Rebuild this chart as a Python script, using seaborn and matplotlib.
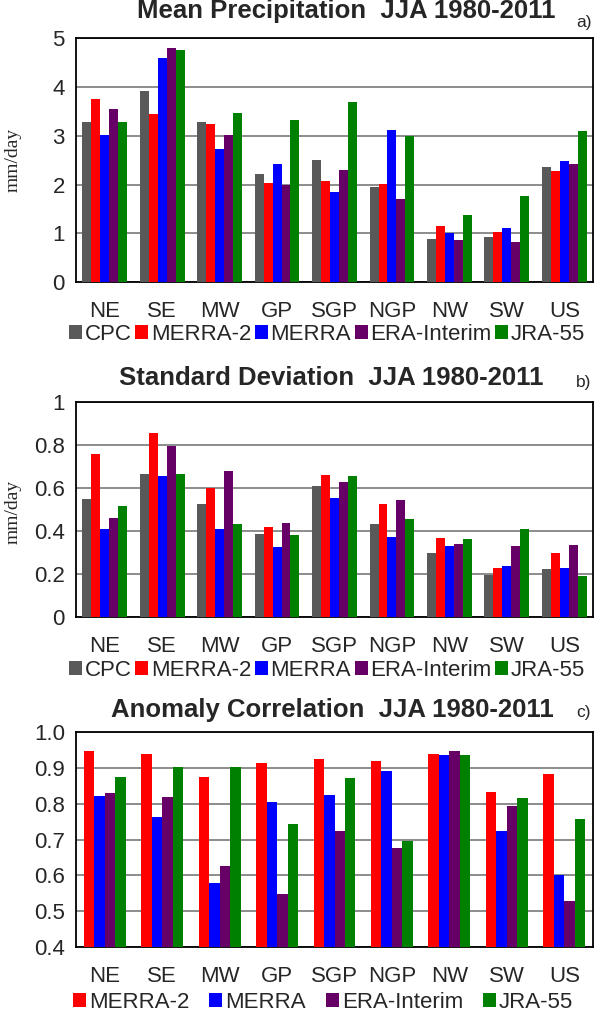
import numpy as np
import pandas as pd
import matplotlib
matplotlib.use("Agg")
import matplotlib.pyplot as plt
import seaborn as sns
from matplotlib.ticker import FormatStrFormatter

regions = ["NE", "SE", "MW", "GP", "SGP", "NGP", "NW", "SW", "US"]

# panel a: mean precipitation (mm/day)
mean_cpc   = [3.29, 3.91, 3.29, 2.22, 2.50, 1.94, 0.89, 0.93, 2.36]
mean_m2    = [3.76, 3.44, 3.25, 2.04, 2.07, 2.01, 1.15, 1.03, 2.28]
mean_merra = [3.02, 4.60, 2.72, 2.43, 1.84, 3.12, 1.00, 1.11, 2.48]
mean_era   = [3.55, 4.80, 3.02, 1.99, 2.29, 1.71, 0.86, 0.83, 2.43]
mean_jra   = [3.29, 4.77, 3.47, 3.32, 3.69, 2.99, 1.37, 1.77, 3.09]

# panel b: standard deviation (mm/day)
sd_cpc   = [0.546, 0.666, 0.524, 0.384, 0.610, 0.431, 0.294, 0.193, 0.222]
sd_m2    = [0.756, 0.855, 0.600, 0.417, 0.659, 0.524, 0.367, 0.227, 0.294]
sd_merra = [0.406, 0.655, 0.406, 0.322, 0.554, 0.369, 0.328, 0.238, 0.227]
sd_era   = [0.457, 0.795, 0.677, 0.435, 0.627, 0.541, 0.339, 0.328, 0.334]
sd_jra   = [0.515, 0.666, 0.429, 0.379, 0.655, 0.453, 0.361, 0.406, 0.188]

# panel c: anomaly correlation
ac_m2    = [0.947, 0.940, 0.875, 0.913, 0.924, 0.920, 0.940, 0.832, 0.882]
ac_merra = [0.822, 0.762, 0.580, 0.804, 0.825, 0.893, 0.937, 0.723, 0.602]
ac_era   = [0.829, 0.818, 0.626, 0.549, 0.723, 0.676, 0.947, 0.795, 0.529]
ac_jra   = [0.875, 0.902, 0.902, 0.744, 0.873, 0.697, 0.937, 0.815, 0.758]

colors = {"CPC": "#595959", "MERRA-2": "#ff0000", "MERRA": "#0000ff",
          "ERA-Interim": "#660066", "JRA-55": "#008000"}


def longframe(series):
    rows = []
    for name, vals in series:
        for r, v in zip(regions, vals):
            rows.append({"region": r, "dataset": name, "value": v})
    return pd.DataFrame(rows)


sns.set_style("white")
plt.rcParams['font.family'] = ['Liberation Sans', 'DejaVu Sans']

fig = plt.figure(figsize=(6, 10.14), dpi=100)

L, W = 76 / 600, 517 / 600
H = 1014.0


def panel(rect, series, width, ylim, yticks, fmt, title, tx, tag, ty, tgy,
          leg_x, leg_y, colsp):
    ax = fig.add_axes(rect)
    df = longframe(series)
    pal = [colors[n] for n, _ in series]
    sns.barplot(data=df, x="region", y="value", hue="dataset", palette=pal,
                width=width, gap=0, saturation=1, linewidth=0, ax=ax, zorder=3)
    ax.set_xlim(-0.5, 8.5)
    ax.set_ylim(*ylim)
    ax.set_yticks(yticks)
    if fmt:
        ax.yaxis.set_major_formatter(FormatStrFormatter(fmt))
    else:
        ax.set_yticklabels([("%g" % t) for t in yticks])
    ax.set_xticks(np.arange(9))
    ax.set_xticklabels(regions)
    ax.tick_params(axis="x", length=0, labelsize=16, pad=14)
    ax.set_xticks(np.arange(-0.5, 9, 1), minor=True)
    ax.tick_params(axis="x", which="minor", length=8, width=1.2, direction="out")
    ax.tick_params(axis="y", length=5, width=1.2, direction="out", labelsize=16, pad=3)
    ax.yaxis.grid(True, color="#8c8c8c", linewidth=1.4, zorder=0)
    ax.set_axisbelow(True)
    for s in ax.spines.values():
        s.set_color("black")
        s.set_linewidth(1.3)
    ax.set_xlabel("")
    ax.set_ylabel("")
    handles, labels = ax.get_legend_handles_labels()
    ax.legend(handles, labels, ncol=len(series), loc="center",
              bbox_to_anchor=(leg_x, leg_y), bbox_transform=fig.transFigure,
              frameon=False, fontsize=16, handlelength=0.6, handleheight=0.6,
              handletextpad=0.12, columnspacing=colsp, borderaxespad=0)
    fig.text(tx / 600, 1 - ty / H, title, ha="center", va="center",
             fontsize=18.5, fontweight="bold")
    fig.text(0.973, 1 - tgy / H, tag, ha="center", va="center", fontsize=12.5)
    return ax


panel([L, 1 - 282 / H, W, (282 - 38.3) / H],
      [("CPC", mean_cpc), ("MERRA-2", mean_m2), ("MERRA", mean_merra),
       ("ERA-Interim", mean_era), ("JRA-55", mean_jra)],
      0.78, (0, 5), [0, 1, 2, 3, 4, 5], None,
      "Mean Precipitation  JJA 1980-2011", 346, "a)", 11, 22, 327 / 600, 1 - 334 / H, 0.15)
fig.text(0.022, 1 - 160 / H, "mm/day", rotation=90, ha="center", va="center",
         fontsize=14, family=["Liberation Serif", "DejaVu Serif"])

panel([L, 1 - 616.7 / H, W, (616.7 - 401.7) / H],
      [("CPC", sd_cpc), ("MERRA-2", sd_m2), ("MERRA", sd_merra),
       ("ERA-Interim", sd_era), ("JRA-55", sd_jra)],
      0.78, (0, 1), [0, 0.2, 0.4, 0.6, 0.8, 1.0], None,
      "Standard Deviation  JJA 1980-2011", 331, "b)", 378, 383, 327 / 600, 1 - 670 / H, 0.15)
fig.text(0.022, 1 - 512 / H, "mm/day", rotation=90, ha="center", va="center",
         fontsize=14, family=["Liberation Serif", "DejaVu Serif"])

panel([L, 1 - 947 / H, W, (947 - 732.2) / H],
      [("MERRA-2", ac_m2), ("MERRA", ac_merra),
       ("ERA-Interim", ac_era), ("JRA-55", ac_jra)],
      0.73, (0.4, 1.0), [0.4, 0.5, 0.6, 0.7, 0.8, 0.9, 1.0], "%.1f",
      "Anomaly Correlation  JJA 1980-2011", 332, "c)", 710, 713, 323 / 600, 1 - 1002 / H, 0.9)

fig.savefig("out.png", dpi=100)
